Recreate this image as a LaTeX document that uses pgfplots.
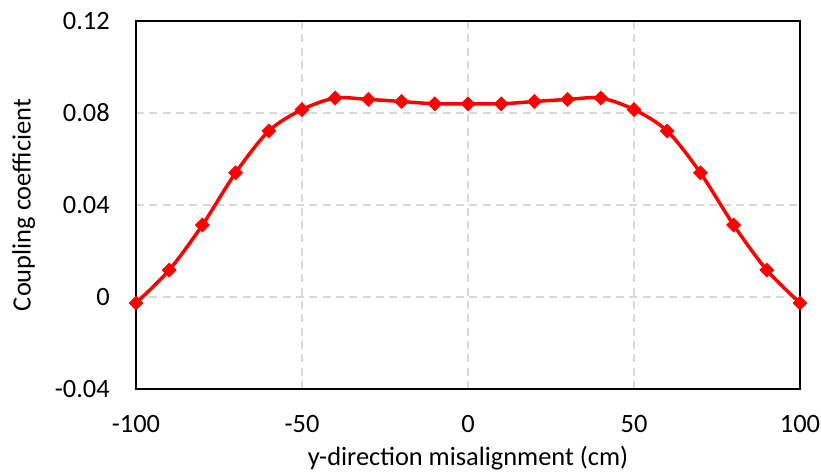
\documentclass[border=0pt]{standalone}
\usepackage{fontspec}
\setmainfont{Carlito}
\usepackage{pgfplots}
\pgfplotsset{compat=1.18}

\pgfplotstableread{
x y
-100 -0.0026
-90 0.0117
-80 0.0313
-70 0.0540
-60 0.0722
-50 0.0815
-40 0.0865
-30 0.0859
-20 0.0850
-10 0.0840
0 0.0840
10 0.0840
20 0.0850
30 0.0859
40 0.0865
50 0.0815
60 0.0722
70 0.0540
80 0.0313
90 0.0117
100 -0.0026
}\coupling

\definecolor{gridgray}{RGB}{217,217,217}

\begin{document}
\begin{tikzpicture}
% fixed frame: 821x472 px at 0.75pt per px
\useasboundingbox (-102pt,-62.25pt) rectangle (513.75pt,291.75pt);
\begin{axis}[
    at={(0,0)}, anchor=south west,
    width=498pt, height=276pt,
    scale only axis,
    xmin=-100, xmax=100,
    ymin=-0.04, ymax=0.12,
    xtick={-100,-50,0,50,100},
    xticklabels={-100,-50,0,50,100},
    ytick={-0.04,0,0.04,0.08,0.12},
    yticklabels={-0.04,0,0.04,0.08,0.12},
    major tick length=0pt,
    axis line style={black, line width=1.1pt},
    grid=major,
    major grid style={gridgray, dash pattern=on 6pt off 4pt, line width=0.9pt},
    tick label style={font=\fontsize{19.8}{23}\selectfont},
    label style={font=\fontsize{19.8}{23}\selectfont},
    xticklabel style={anchor=base, inner sep=0pt, yshift=-32.25pt},
    yticklabel style={anchor=east, inner sep=0pt, xshift=-19.5pt},
    xlabel={y-direction misalignment (cm)},
    ylabel={Coupling coefficient},
    xlabel style={at={(axis description cs:0.5,-0.2092)}, anchor=base, inner sep=0pt},
    ylabel style={at={(axis description cs:-0.1586,0.5)}, anchor=base, inner sep=0pt},
]
\addplot[red, line width=2.6pt, smooth, tension=0.5, mark=square*,
    mark size=3.7pt, mark options={fill=red, draw=red, line width=0.5pt, rotate=45}]
    table[x=x, y=y] {\coupling};
\end{axis}
\end{tikzpicture}
\end{document}
